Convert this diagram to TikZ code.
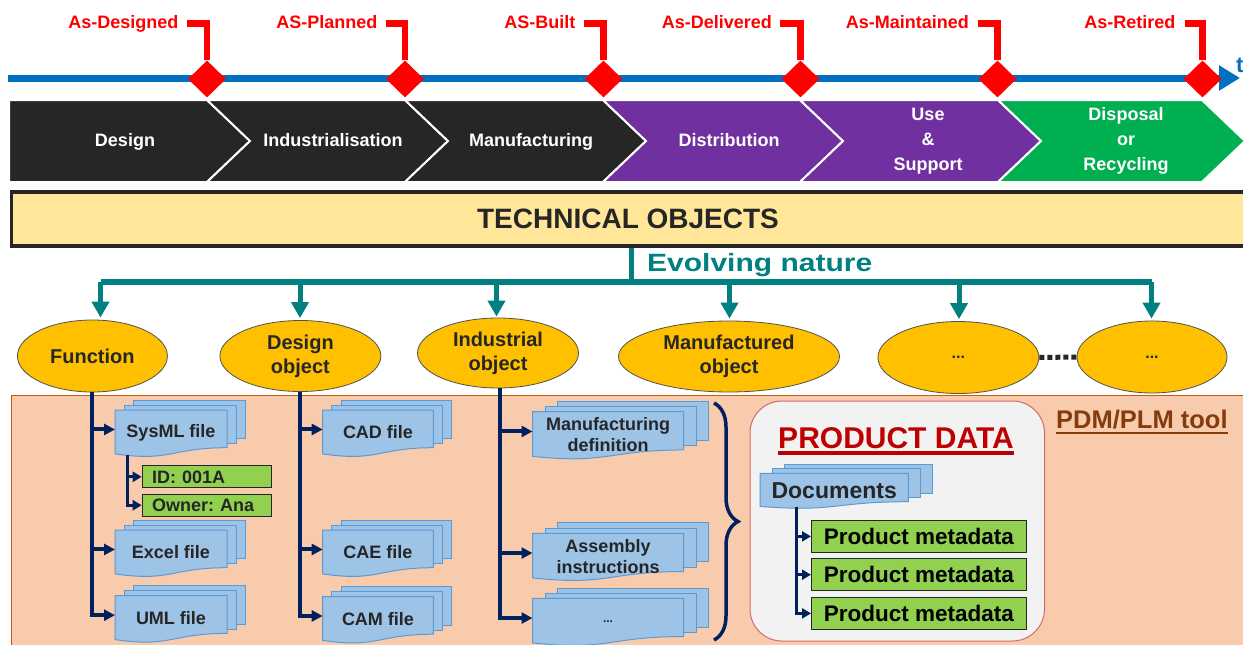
\documentclass[tikz,border=0pt]{standalone}
\usepackage{fontspec}
\setmainfont{Liberation Sans}
\newfontfamily\widefont[FakeStretch=1.2]{Liberation Sans}
\usetikzlibrary{shapes.geometric,arrows.meta,decorations.pathreplacing}
\frenchspacing
\definecolor{tlblue}{HTML}{0070C0}
\definecolor{msred}{HTML}{FF0000}
\definecolor{chdark}{HTML}{262626}
\definecolor{chpurple}{HTML}{7030A0}
\definecolor{chgreen}{HTML}{00B050}
\definecolor{techfill}{HTML}{FFE699}
\definecolor{tealc}{HTML}{008080}
\definecolor{gold}{HTML}{FFC000}
\definecolor{peach}{HTML}{F8CBAD}
\definecolor{peachline}{HTML}{C55A11}
\definecolor{navy}{HTML}{002060}
\definecolor{docfillc}{HTML}{9DC3E6}
\definecolor{doclinec}{HTML}{5B9BD5}
\definecolor{metagreen}{HTML}{92D050}
\definecolor{pdred}{HTML}{C00000}
\definecolor{pdmbrown}{HTML}{843C0C}
\definecolor{pdbox}{HTML}{F2F2F2}
\definecolor{pdboxline}{HTML}{D46A6A}
\newcommand\docstack[8]{%
  \filldraw[docshape] (#2+2*#6,#3-2*#7) rectangle (#2+2*#6+#4,#3-2*#7+0.82*#5);
  \filldraw[docshape] (#2+#6,#3-#7) rectangle (#2+#6+#4,#3-#7+0.82*#5);
  \filldraw[docshape] (#2,#3) -- (#2+#4,#3) -- (#2+#4,#3+0.802*#5)
     .. controls (#2+0.5*#4,#3+0.802*#5) and (#2+0.5*#4,#3+1.1075*#5) .. (#2,#3+0.934*#5) -- cycle;
  \node[anchor=north west,inner sep=0pt,minimum width=#4,minimum height=0.82*#5] (#1) at (#2,#3) {};
  \node[filetext] (#1-t) at (#2+0.5*#4,#3+0.48*#5) {#8};
}
\tikzset{
  docshape/.style={fill=docfillc,draw=doclinec,line width=1pt},
  filetext/.style={font=\fontsize{18}{21}\selectfont\bfseries,text=chdark,align=center,inner sep=0pt},
  mslab/.style={font=\fontsize{18}{21}\selectfont\bfseries,text=msred,inner sep=0pt,text height=13.5pt,text depth=3.5pt,anchor=east},
  msdiam/.style={diamond,fill=msred,inner sep=0pt,minimum width=38pt,minimum height=37pt},
  redline/.style={draw=msred,line width=6.5pt},
  chev/.style={draw=white,line width=2pt},
  chlab/.style={font=\fontsize{18}{25}\selectfont\bfseries,text=white,align=center,inner sep=0pt},
  chlabone/.style={font=\fontsize{18}{25}\selectfont\bfseries,text=white,inner sep=0pt,text height=13pt,text depth=3.5pt},
  techbox/.style={draw=chdark,line width=3.5pt,fill=techfill,inner sep=0pt,font=\fontsize{28}{30}\selectfont\bfseries,text=chdark},
  tealbar/.style={draw=tealc,line width=6pt},
  tealarrow/.style={draw=tealc,line width=5pt,-{Triangle[length=16pt,width=17pt]}},
  ell/.style={ellipse,fill=gold,draw=chdark!80,line width=0.8pt,inner sep=0pt,font=\fontsize{20}{24}\selectfont\bfseries,text=chdark,align=center},
  navarrow/.style={draw=navy,line width=4pt,-{Triangle[length=11pt,width=11pt]}},
  subarrow/.style={draw=navy,line width=3pt,-{Triangle[length=9pt,width=10pt]}},
  gbox/.style={fill=metagreen,draw=chdark,line width=1pt,anchor=west,inner ysep=0pt},
}
\begin{document}
\begin{tikzpicture}[x=1pt,y=-1pt]
\useasboundingbox (0,0) rectangle (1243,645);
\fill[white] (0,0) rectangle (1243,645);
% timeline
\coordinate (tstart) at (8,78);
\coordinate (tend) at (1240,78);
\draw[draw=tlblue,line width=7pt,-{Triangle[length=21pt,width=24pt]}] (tstart) -- (tend);
\node[anchor=base west,inner sep=0pt,text=tlblue,font=\fontsize{22}{24}\selectfont\bfseries] (tlab) at (1236,72) {t};
% chevrons
\filldraw[chev,fill=chdark] (9,100) -- (207,100) -- (250,141) -- (207,182) -- (9,182) -- cycle;
\filldraw[chev,fill=chdark] (207,100) -- (405,100) -- (448,141) -- (405,182) -- (207,182) -- (250,141) -- cycle;
\filldraw[chev,fill=chdark] (405,100) -- (603,100) -- (646,141) -- (603,182) -- (405,182) -- (448,141) -- cycle;
\filldraw[chev,fill=chpurple] (603,100) -- (800,100) -- (843,141) -- (800,182) -- (603,182) -- (646,141) -- cycle;
\filldraw[chev,fill=chpurple] (800,100) -- (998,100) -- (1041,141) -- (998,182) -- (800,182) -- (843,141) -- cycle;
\filldraw[chev,fill=chgreen] (998,100) -- (1202,100) -- (1245,141) -- (1202,182) -- (998,182) -- (1041,141) -- cycle;
\node[chlabone] (c1) at (125,141.3) {Design};
\node[chlabone] (c2) at (333,141.3) {Industrialisation};
\node[chlabone] (c3) at (531,141.3) {Manufacturing};
\node[chlabone] (c4) at (729,141.3) {Distribution};
\node[chlab] (c5) at (928,141) {Use\\\&\\Support};
\node[chlab] (c6) at (1126,141) {Disposal\\or\\Recycling};
% milestones
\node[msdiam] (d1) at (207,79) {};
\node[msdiam] (d2) at (405,79) {};
\node[msdiam] (d3) at (603.5,79) {};
\node[msdiam] (d4) at (800.5,79) {};
\node[msdiam] (d5) at (997.5,79) {};
\node[msdiam] (d6) at (1202.5,79) {};
\node[mslab] (l1) at (178.7,23.5) {As-Designed};
\node[mslab] (l2) at (377.5,23.5) {AS-Planned};
\node[mslab] (l3) at (575.5,23.5) {AS-Built};
\node[mslab] (l4) at (772,23.5) {As-Delivered};
\node[mslab] (l5) at (969,23.5) {As-Maintained};
\node[mslab] (l6) at (1175.5,23.5) {As-Retired};
\draw[redline] ([xshift=8pt]l1.east) -| (d1.north);
\draw[redline] ([xshift=8pt]l2.east) -| (d2.north);
\draw[redline] ([xshift=8pt]l3.east) -| (d3.north);
\draw[redline] ([xshift=8pt]l4.east) -| (d4.north);
\draw[redline] ([xshift=9pt]l5.east) -| (d5.north);
\draw[redline] ([xshift=9pt]l6.east) -| (d6.north);
% technical objects
\node[techbox,minimum width=1240pt,minimum height=54pt] (tech) at (631.5,219) {};
\node[inner sep=0pt,font=\fontsize{28}{30}\selectfont\bfseries,text=chdark] (techt) at (628,219) {TECHNICAL OBJECTS};
% evolving nature
\coordinate (bL) at (100.5,282);
\coordinate (bR) at (1151.5,282);
\coordinate (a2) at (300,282);
\coordinate (a3) at (496.5,282);
\coordinate (a4) at (729.5,282);
\coordinate (a5) at (959,282);
\draw[tealbar] (bL) -- (bR);
\draw[draw=tealc,line width=5pt] (tech.south) -- (tech.south |- bL);
\node[anchor=base west,inner sep=0pt,text=tealc,font=\widefont\fontsize{25}{28}\selectfont\bfseries] (evo) at (647,271) {Evolving nature};
% peach panel
\filldraw[fill=peach,draw=peachline,line width=1pt] (11,395) rectangle (1260,660);
% ellipses
\node[ell,minimum width=150pt,minimum height=72pt] (fn) at (92.4,356) {Function};
\node[ell,minimum width=161pt,minimum height=71pt] (dob) at (300.4,356) {Design\\object};
\node[ell,minimum width=161pt,minimum height=70pt] (iob) at (498,353) {Industrial\\object};
\node[ell,minimum width=221pt,minimum height=71pt] (mob) at (729,356.5) {Manufactured\\object};
\node[ell,minimum width=161pt,minimum height=72pt] (e5) at (958.4,357.5) {\fontsize{16}{18}\selectfont...};
\node[ell,minimum width=150pt,minimum height=72pt] (e6) at (1152,357) {\fontsize{16}{18}\selectfont...};
\draw[draw=chdark,line width=5pt,dash pattern=on 5pt off 3pt] (e5.east) -- (e6.west);
\draw[tealarrow,shorten >=2pt] (bL) -- (bL |- fn.north);
\draw[tealarrow,shorten >=2pt] (a2) -- (a2 |- dob.north);
\draw[tealarrow,shorten >=1pt] (a3) -- (a3 |- iob.north);
\draw[tealarrow,shorten >=2pt] (a4) -- (a4 |- mob.north);
\draw[tealarrow,shorten >=2pt] (a5) -- (a5 |- e5.north);
\draw[tealarrow,shorten >=2pt] (bR) -- (bR |- e6.north);
% PDM/PLM tool
\node[anchor=base west,inner sep=0pt,text=pdmbrown,font=\fontsize{25.5}{28}\selectfont\bfseries] (pdm) at (1056,428) {PDM/PLM tool};
\draw[draw=pdmbrown,line width=2.5pt] ([yshift=-5pt]pdm.base west) -- ([yshift=-5pt]pdm.base east);
% product data box
\filldraw[fill=pdbox,draw=pdboxline,line width=1pt,rounded corners=32pt] (750,401) rectangle (1044.5,641);
\node[anchor=base,inner sep=0pt,text=pdred,font=\fontsize{30}{32}\selectfont\bfseries] (pd) at (896,448) {PRODUCT DATA};
\draw[draw=pdred,line width=3.5pt] ([yshift=-5pt]pd.base west) -- ([yshift=-5pt]pd.base east);
% file stacks
\docstack{sysml}{115}{410}{112}{47}{9}{5}{SysML file}
\docstack{excel}{115}{530}{112}{47}{9}{5}{Excel file}
\docstack{uml}{115}{595.7}{112}{47}{9}{5}{UML file}
\docstack{cad}{322.7}{410}{110.6}{47}{9.2}{5}{CAD file}
\docstack{cae}{322.7}{530}{110.6}{47}{9.2}{5}{CAE file}
\docstack{cam}{322.7}{596.5}{110.6}{47}{9.2}{5}{CAM file}
\docstack{mdef}{532.5}{411.7}{151}{47.7}{12.5}{5}{Manufacturing\\definition}
\docstack{asm}{532.5}{533.3}{151}{47.7}{12.5}{5.3}{Assembly\\instructions}
\docstack{more}{532.5}{598.3}{151}{47.7}{12.5}{5}{\fontsize{12}{14}\selectfont...}
\docstack{docs}{760}{473.3}{148.4}{35.4}{12.2}{4.5}{\fontsize{23}{25}\selectfont Documents}
% green boxes
\node[gbox,minimum width=129pt,minimum height=21.7pt,text width=109pt,inner xsep=10pt,font=\fontsize{18}{20}\selectfont\bfseries,text=chdark,align=left] (id) at (141.7,476.8) {ID: 001A};
\node[gbox,minimum width=129pt,minimum height=21.7pt,text width=109pt,inner xsep=10pt,font=\fontsize{18}{20}\selectfont\bfseries,text=chdark,align=left] (own) at (141.7,505.2) {Owner: Ana};
\node[gbox,minimum width=215pt,minimum height=32.5pt,inner xsep=0pt,font=\fontsize{22.5}{24}\selectfont\bfseries,text=black] (pm1) at (811,536.4) {Product metadata};
\node[gbox,minimum width=215pt,minimum height=32.5pt,inner xsep=0pt,font=\fontsize{22.5}{24}\selectfont\bfseries,text=black] (pm2) at (811,574.7) {Product metadata};
\node[gbox,minimum width=215pt,minimum height=32.5pt,inner xsep=0pt,font=\fontsize{22.5}{24}\selectfont\bfseries,text=black] (pm3) at (811,613.4) {Product metadata};
% navy trees
\draw[navarrow] (fn.south) |- (sysml.west);
\draw[navarrow] (fn.south) |- (excel.west);
\draw[navarrow] (fn.south) |- (uml.west);
\draw[navarrow] (dob.south) |- (cad.west);
\draw[navarrow] (dob.south) |- (cae.west);
\draw[navarrow] (dob.south) |- (cam.west);
\draw[navarrow] (iob.south) ++(1.5,0) |- (mdef.west);
\draw[navarrow] (iob.south) ++(1.5,0) |- (asm.west);
\draw[navarrow] (iob.south) ++(1.5,0) |- (more.west);
\draw[subarrow] ([xshift=12pt,yshift=-6pt]sysml.south west) |- (id.west);
\draw[subarrow] ([xshift=12pt,yshift=-6pt]sysml.south west) |- (own.west);
\draw[subarrow,line width=2.5pt] ([xshift=36.5pt,yshift=-4pt]docs.south west) |- (pm1.west);
\draw[subarrow,line width=2.5pt] ([xshift=36.5pt,yshift=-4pt]docs.south west) |- (pm2.west);
\draw[subarrow,line width=2.5pt] ([xshift=36.5pt,yshift=-4pt]docs.south west) |- (pm3.west);
% brace
\coordinate (brtop) at (714,403);
\coordinate (brbot) at (714,640);
\draw[draw=navy,line width=3.5pt,decorate,decoration={brace,amplitude=24pt}] (brtop) -- (brbot);
\end{tikzpicture}
\end{document}
